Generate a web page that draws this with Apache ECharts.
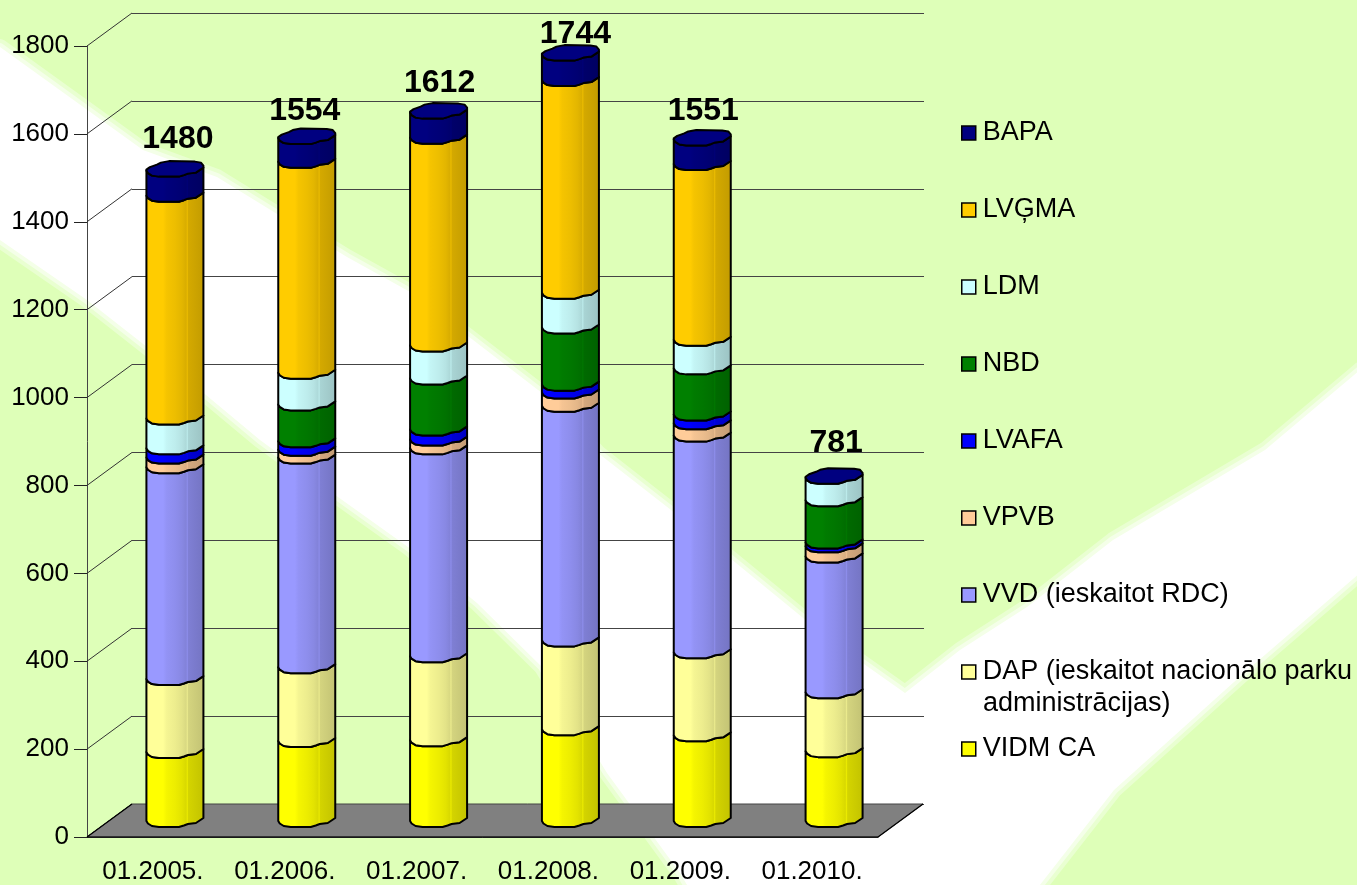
<!DOCTYPE html>
<html>
<head>
<meta charset="utf-8">
<style>html,body{margin:0;padding:0;background:#DEFFB8}#c{width:1357px;height:885px}</style>
<script src="https://cdn.jsdelivr.net/npm/echarts@6/dist/echarts.min.js"></script>
</head>
<body>
<div id="c"></div>
<script>
const categories = ['01.2005.','01.2006.','01.2007.','01.2008.','01.2009.','01.2010.'];
const axisTicks  = [0,200,400,600,800,1000,1200,1400,1600,1800];
const totals = [1480,1554,1612,1744,1551,781];

const vidm  = [157,182,184,209,195,159];
const dap   = [166,168,191,202,189,134];
const vvd   = [482,477,473,534,493,309];
const vpvb  = [22,18,20,30,28,23];
const lvafa = [21,19,23,18,20,9];
const nbd   = [0,84,116,130,105,96];
const ldm   = [68,72,75,79,65,51];
const lvgma = [507,480,473,484,400,0];
const bapa  = [57,54,57,58,56,0];

const names = ['VIDM CA','DAP (ieskaitot nacionālo parku administrācijas)','VVD (ieskaitot RDC)','VPVB','LVAFA','NBD','LDM','LVĢMA','BAPA'];
const values = [vidm,dap,vvd,vpvb,lvafa,nbd,ldm,lvgma,bapa];
const colors = ['#FFFF00','#FFFF99','#9999FF','#FFCC99','#0000FF','#008000','#CCFFFF','#FFCC00','#000080'];

// layout (not data)
const FONT = '"Liberation Sans", Arial, sans-serif';
const DX = 45, DY = 33;
const frontRim = [[-28.5,-6],[-27,-3.5],[-23,-1],[-16,0],[4,0],[9,-1.5],[13,-3],[21,-4],[28.5,-9]];
const backRim  = [[28.5,-11],[26,-14],[20,-15],[-6,-15.5],[-14,-14],[-18,-12],[-25,-9.5],[-28.5,-7]];
const labelLift = [37,33,35,26,34,41];
const labelShift = [3,-2,1,5,1,2];
const legendCy = {'BAPA':133,'LVĢMA':210,'LDM':287,'NBD':364,'LVAFA':441,'VPVB':518,'VVD (ieskaitot RDC)':595,'DAP (ieskaitot nacionālo parku administrācijas)':672,'VIDM CA':749};
const whiteBand = [[0,47],[143,150],[217,177],[347,257],[412,293],[542,393],[598,453],[680,517],[736,563],[830,640],[905,693],[960,650],[1027,607],[1113,540],[1265,450],[1360,370],[1360,573],[1244,673],[1114,790],[1036,890],[690,890],[680,873],[607,773],[542,667],[477,603],[408,547],[338,497],[260,440],[200,390],[147,347],[87,300],[0,240]];

function shade(hex, m){
  const n = parseInt(hex.slice(1),16);
  const c = [(n>>16)&255,(n>>8)&255,n&255].map(v=>Math.round(v*m));
  return 'rgb('+c.join(',')+')';
}
const bands = [[0,1],[.3,1],[.36,.96],[.5,.93],[.62,.89],[.69,.85],[.71,.92],[.73,.83],[.85,.8],[1,.76]];
function barFill(hex){
  return {type:'linear',x:0,y:0,x2:1,y2:0,colorStops:bands.map(b=>({offset:b[0],color:shade(hex,b[1])}))};
}
function rim(cx,y){ return frontRim.map(p=>[cx+p[0],y+p[1]]); }

function renderSeg(colorIdx){
  return function(params, api){
    const i = api.value(0), lo = api.value(1), hi = api.value(2);
    const pLo = api.coord([i,lo]), pHi = api.coord([i,hi]);
    const cx = pLo[0];
    const children = [];
    if (hi > lo){
      const pts = rim(cx,pHi[1]).concat(rim(cx,pLo[1]).reverse());
      children.push({type:'polygon',shape:{points:pts},
        style:{fill:barFill(colors[colorIdx]),stroke:'#000',lineWidth:2,lineJoin:'round'}});
    }
    if (colorIdx === colors.length-1){
      const top = rim(cx,pHi[1]).concat(backRim.map(p=>[cx+p[0],pHi[1]+p[1]]));
      children.push({type:'polygon',shape:{points:top},
        style:{fill:colors[colorIdx],stroke:'#000',lineWidth:2,lineJoin:'round'}});
    }
    return {type:'group',children:children};
  };
}

const cumulative = categories.map(()=>0);
const barSeries = names.map((name,k)=>{
  const data = categories.map((c,i)=>{
    const lo = cumulative[i], hi = lo + values[k][i];
    cumulative[i] = hi;
    return [i,lo,hi];
  });
  return {type:'custom',name:name,xAxisIndex:2,yAxisIndex:2,z:5,
    itemStyle:{color:colors[k]},encode:{x:0,y:[1,2]},
    renderItem:renderSeg(k),data:data,silent:true};
});

const floorSeries = {type:'custom',name:'floor',xAxisIndex:0,yAxisIndex:0,z:2,silent:true,
  data:[[0,0]],encode:{x:0,y:1},
  renderItem:function(params,api){
    const y = api.coord([0,api.value(1)])[1], s = params.coordSys;
    return {type:'group',children:[
      {type:'polygon',shape:{points:[[s.x,y],[s.x+DX,y-DY],[s.x+s.width+DX,y-DY],[s.x+s.width,y]]},
       style:{fill:'#808080',stroke:'#444',lineWidth:1}},
      {type:'line',shape:{x1:s.x,y1:y,x2:s.x+s.width,y2:y},style:{stroke:'#000',lineWidth:1.2}},
      {type:'line',shape:{x1:s.x,y1:y,x2:s.x+DX,y2:y-DY},style:{stroke:'#000',lineWidth:1.2}},
      {type:'line',shape:{x1:s.x+s.width,y1:y,x2:s.x+s.width+DX,y2:y-DY},style:{stroke:'#000',lineWidth:1.2}}
    ]};
  }};
const wallSeries = {type:'custom',name:'wall',xAxisIndex:0,yAxisIndex:0,z:1,silent:true,
  data:axisTicks.map(v=>[0,v]),encode:{x:0,y:1},
  renderItem:function(params,api){
    const y = api.coord([0,api.value(1)])[1], s = params.coordSys;
    return {type:'line',shape:{x1:s.x,y1:y,x2:s.x+DX,y2:y-DY},style:{stroke:'#333',lineWidth:1}};
  }};
const totalSeries = {type:'custom',name:'total',xAxisIndex:2,yAxisIndex:2,z:6,silent:true,
  data:totals.map((t,i)=>[i,t]),encode:{x:0,y:1},
  renderItem:function(params,api){
    const i = api.value(0), p = api.coord([i,api.value(1)]);
    return {type:'text',style:{text:String(api.value(1)),x:p[0]+labelShift[i],y:p[1]-labelLift[i],
      align:'center',verticalAlign:'middle',fill:'#000',font:'bold 32px '+FONT}};
  }};

const legends = names.slice().reverse().map(n=>({
  left:961, top:legendCy[n]-19, orient:'vertical', padding:0, data:[n], selectedMode:false,
  itemWidth:14, itemHeight:14, icon:'rect',
  itemStyle:{borderColor:'#000',borderWidth:1.5},
  textStyle:{fontFamily:FONT,fontSize:27,color:'#000',lineHeight:30,padding:[0,0,8,2]},
  formatter:function(name){ return name.replace(' administrācijas)',''); }
}));

const chart = echarts.init(document.getElementById('c'),null,{renderer:'canvas'});
chart.setOption({
  animation:false,
  backgroundColor:'#DEFFB8',
  textStyle:{fontFamily:FONT},
  tooltip:{show:false},
  grid:[
    {left:87,top:46,width:791,height:791,outerBoundsMode:'none'},
    {left:132,top:13,width:792,height:791,outerBoundsMode:'none'},
    {left:109,top:36,width:791,height:791,outerBoundsMode:'none'}
  ],
  xAxis:[
    {type:'category',gridIndex:0,data:categories,
     axisLine:{lineStyle:{color:'#222',width:1}},
     axisTick:{length:14,lineStyle:{color:'#222',width:1}},
     axisLabel:{fontFamily:FONT,fontSize:26,color:'#000',margin:22,interval:0}},
    {type:'category',gridIndex:1,data:categories,show:false},
    {type:'category',gridIndex:2,data:categories,show:false}
  ],
  yAxis:[
    {type:'value',gridIndex:0,min:0,max:1800,interval:200,
     axisLine:{show:true,lineStyle:{color:'#444',width:1}},
     axisTick:{show:true,length:13,lineStyle:{color:'#222',width:1}},
     splitLine:{show:false},
     axisLabel:{fontFamily:FONT,fontSize:26,color:'#000',margin:18,formatter:function(v){return String(v);}}},
    {type:'value',gridIndex:1,min:0,max:1800,interval:200,
     axisLine:{show:false},axisTick:{show:false},axisLabel:{show:false},
     splitLine:{show:true,lineStyle:{color:'#444',width:1}}},
    {type:'value',gridIndex:2,min:0,max:1800,interval:200,show:false}
  ],
  legend:legends,
  graphic:{elements:[
    {type:'polygon',z:-102,silent:true,shape:{points:whiteBand},
     style:{fill:'rgba(255,255,255,0)',stroke:'rgba(255,255,255,0.35)',lineWidth:16,lineJoin:'round'}},
    {type:'polygon',z:-101,silent:true,shape:{points:whiteBand},
     style:{fill:'rgba(255,255,255,0)',stroke:'rgba(255,255,255,0.5)',lineWidth:8,lineJoin:'round'}},
    {type:'polygon',z:-100,silent:true,shape:{points:whiteBand},
     style:{fill:'#fff'}},
    {type:'text',z:10,silent:true,left:983,top:690,
     style:{text:'administrācijas)',fill:'#000',font:'27px '+FONT}}
  ]},
  series:[wallSeries,floorSeries].concat(barSeries,[totalSeries])
});
</script>
</body>
</html>
